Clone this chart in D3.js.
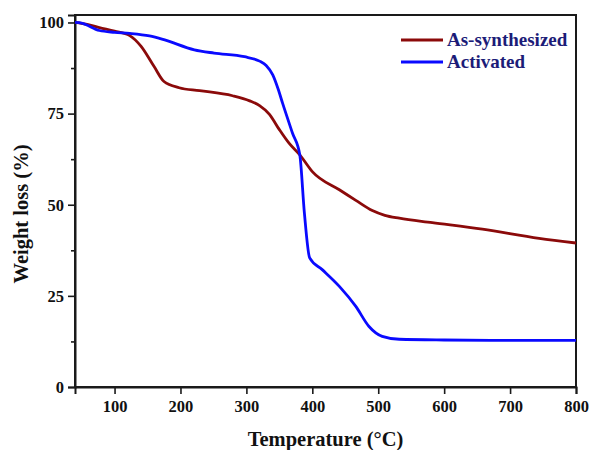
<!DOCTYPE html>
<html>
<head>
<meta charset="utf-8">
<script src="https://cdn.jsdelivr.net/npm/d3@7"></script>
<style>
  body { margin: 0; background: #fff; }
  text { font-family: "Liberation Serif", "Times New Roman", serif; font-weight: bold; }
</style>
</head>
<body>
<div id="chart"></div>
<script>
// data
const temps = [40, 60, 77, 100, 123, 140, 160, 175, 198, 229, 279, 305, 320, 335, 350, 365, 381, 400, 441, 466, 491, 510, 532, 582, 658, 744, 800]
const asSynth = [100, 99.4, 98.6, 97.6, 96.4, 93.5, 87.9, 83.8, 82.1, 81.3, 79.9, 78.5, 77.2, 74.8, 70.6, 66.8, 63.7, 59.1, 54.1, 51.2, 48.4, 47.1, 46.3, 45.1, 43.3, 40.8, 39.5]

const tempsAct = [40, 50, 77, 100, 123, 153, 176, 221, 251, 297, 320, 330, 340, 348, 355, 370, 381, 388, 396, 415, 441, 466, 486, 506, 532, 600, 700, 800]
const activated = [100, 99.8, 97.8, 97.3, 97, 96.3, 95.2, 92.5, 91.6, 90.6, 89.4, 88.2, 85.6, 81.8, 77.8, 69.6, 63.7, 47.7, 35.4, 32.2, 27.6, 22.1, 16.6, 13.9, 13.1, 12.9, 12.8, 12.8]

const xTicks = [100, 200, 300, 400, 500, 600, 700, 800]
const yTicks = [0, 25, 50, 75, 100]
const yMinor = [12.5, 37.5, 62.5, 87.5]
const series = [
  { name: 'As-synthesized', x: temps, y: asSynth, color: '#8b0a0a' },
  { name: 'Activated', x: tempsAct, y: activated, color: '#0a0aff' }
]

const W = 590, H = 450
const margin = { top: 15, right: 14, bottom: 63, left: 75 }
const w = W - margin.left - margin.right
const h = H - margin.top - margin.bottom

const svg = d3.select('#chart').append('svg')
  .attr('width', W)
  .attr('height', H)

const g = svg.append('g')
  .attr('transform', 'translate(' + margin.left + ',' + margin.top + ')')

const x = d3.scaleLinear().domain([40, 800]).range([0, w])
const y = d3.scaleLinear().domain([0, 102.05]).range([h, 0])

// frame
g.append('rect')
  .attr('width', w)
  .attr('height', h)
  .attr('fill', 'none')
  .attr('stroke', '#1a1a1a')
  .attr('stroke-width', 2)

// axes
const xAxis = d3.axisBottom(x).tickValues(xTicks).tickSize(7).tickPadding(6)
const yAxis = d3.axisLeft(y).tickValues(yTicks).tickSize(7).tickPadding(4)

g.append('g')
  .attr('transform', 'translate(0,' + h + ')')
  .call(xAxis)
g.append('g').call(yAxis)

g.append('g')
  .call(d3.axisLeft(y).tickValues(yMinor).tickSize(4).tickFormat(''))
  .call(s => s.select('.domain').remove())

g.selectAll('.tick line').attr('stroke', '#1a1a1a').attr('stroke-width', 1.6)
g.selectAll('.domain').attr('stroke', '#1a1a1a').attr('stroke-width', 2)
g.selectAll('.tick text').attr('font-size', 16.5).attr('fill', '#111')

// lines
const line = d3.line()
  .x(d => x(d[0]))
  .y(d => y(d[1]))
  .curve(d3.curveMonotoneX)

series.forEach(s => {
  g.append('path')
    .datum(s.x.map((t, i) => [t, s.y[i]]))
    .attr('fill', 'none')
    .attr('stroke', s.color)
    .attr('stroke-width', 2.8)
    .attr('stroke-linejoin', 'round')
    .attr('d', line)
})

// legend
const legend = svg.append('g').attr('transform', 'translate(401,40)')
series.forEach((s, i) => {
  const row = legend.append('g').attr('transform', 'translate(0,' + i * 22 + ')')
  row.append('line')
    .attr('x1', 0).attr('x2', 42)
    .attr('stroke', s.color)
    .attr('stroke-width', 2.8)
  row.append('text')
    .attr('x', 46)
    .attr('y', 6)
    .attr('font-size', 19)
    .attr('fill', '#1c1c78')
    .text(s.name)
})

// axis titles
svg.append('text')
  .attr('x', margin.left + w / 2)
  .attr('y', 446)
  .attr('text-anchor', 'middle')
  .attr('font-size', 20.5)
  .attr('fill', '#111')
  .text('Temperature (°C)')

svg.append('text')
  .attr('transform', 'translate(28,214) rotate(-90)')
  .attr('text-anchor', 'middle')
  .attr('font-size', 20.5)
  .attr('fill', '#111')
  .text('Weight loss (%)')
</script>
</body>
</html>
